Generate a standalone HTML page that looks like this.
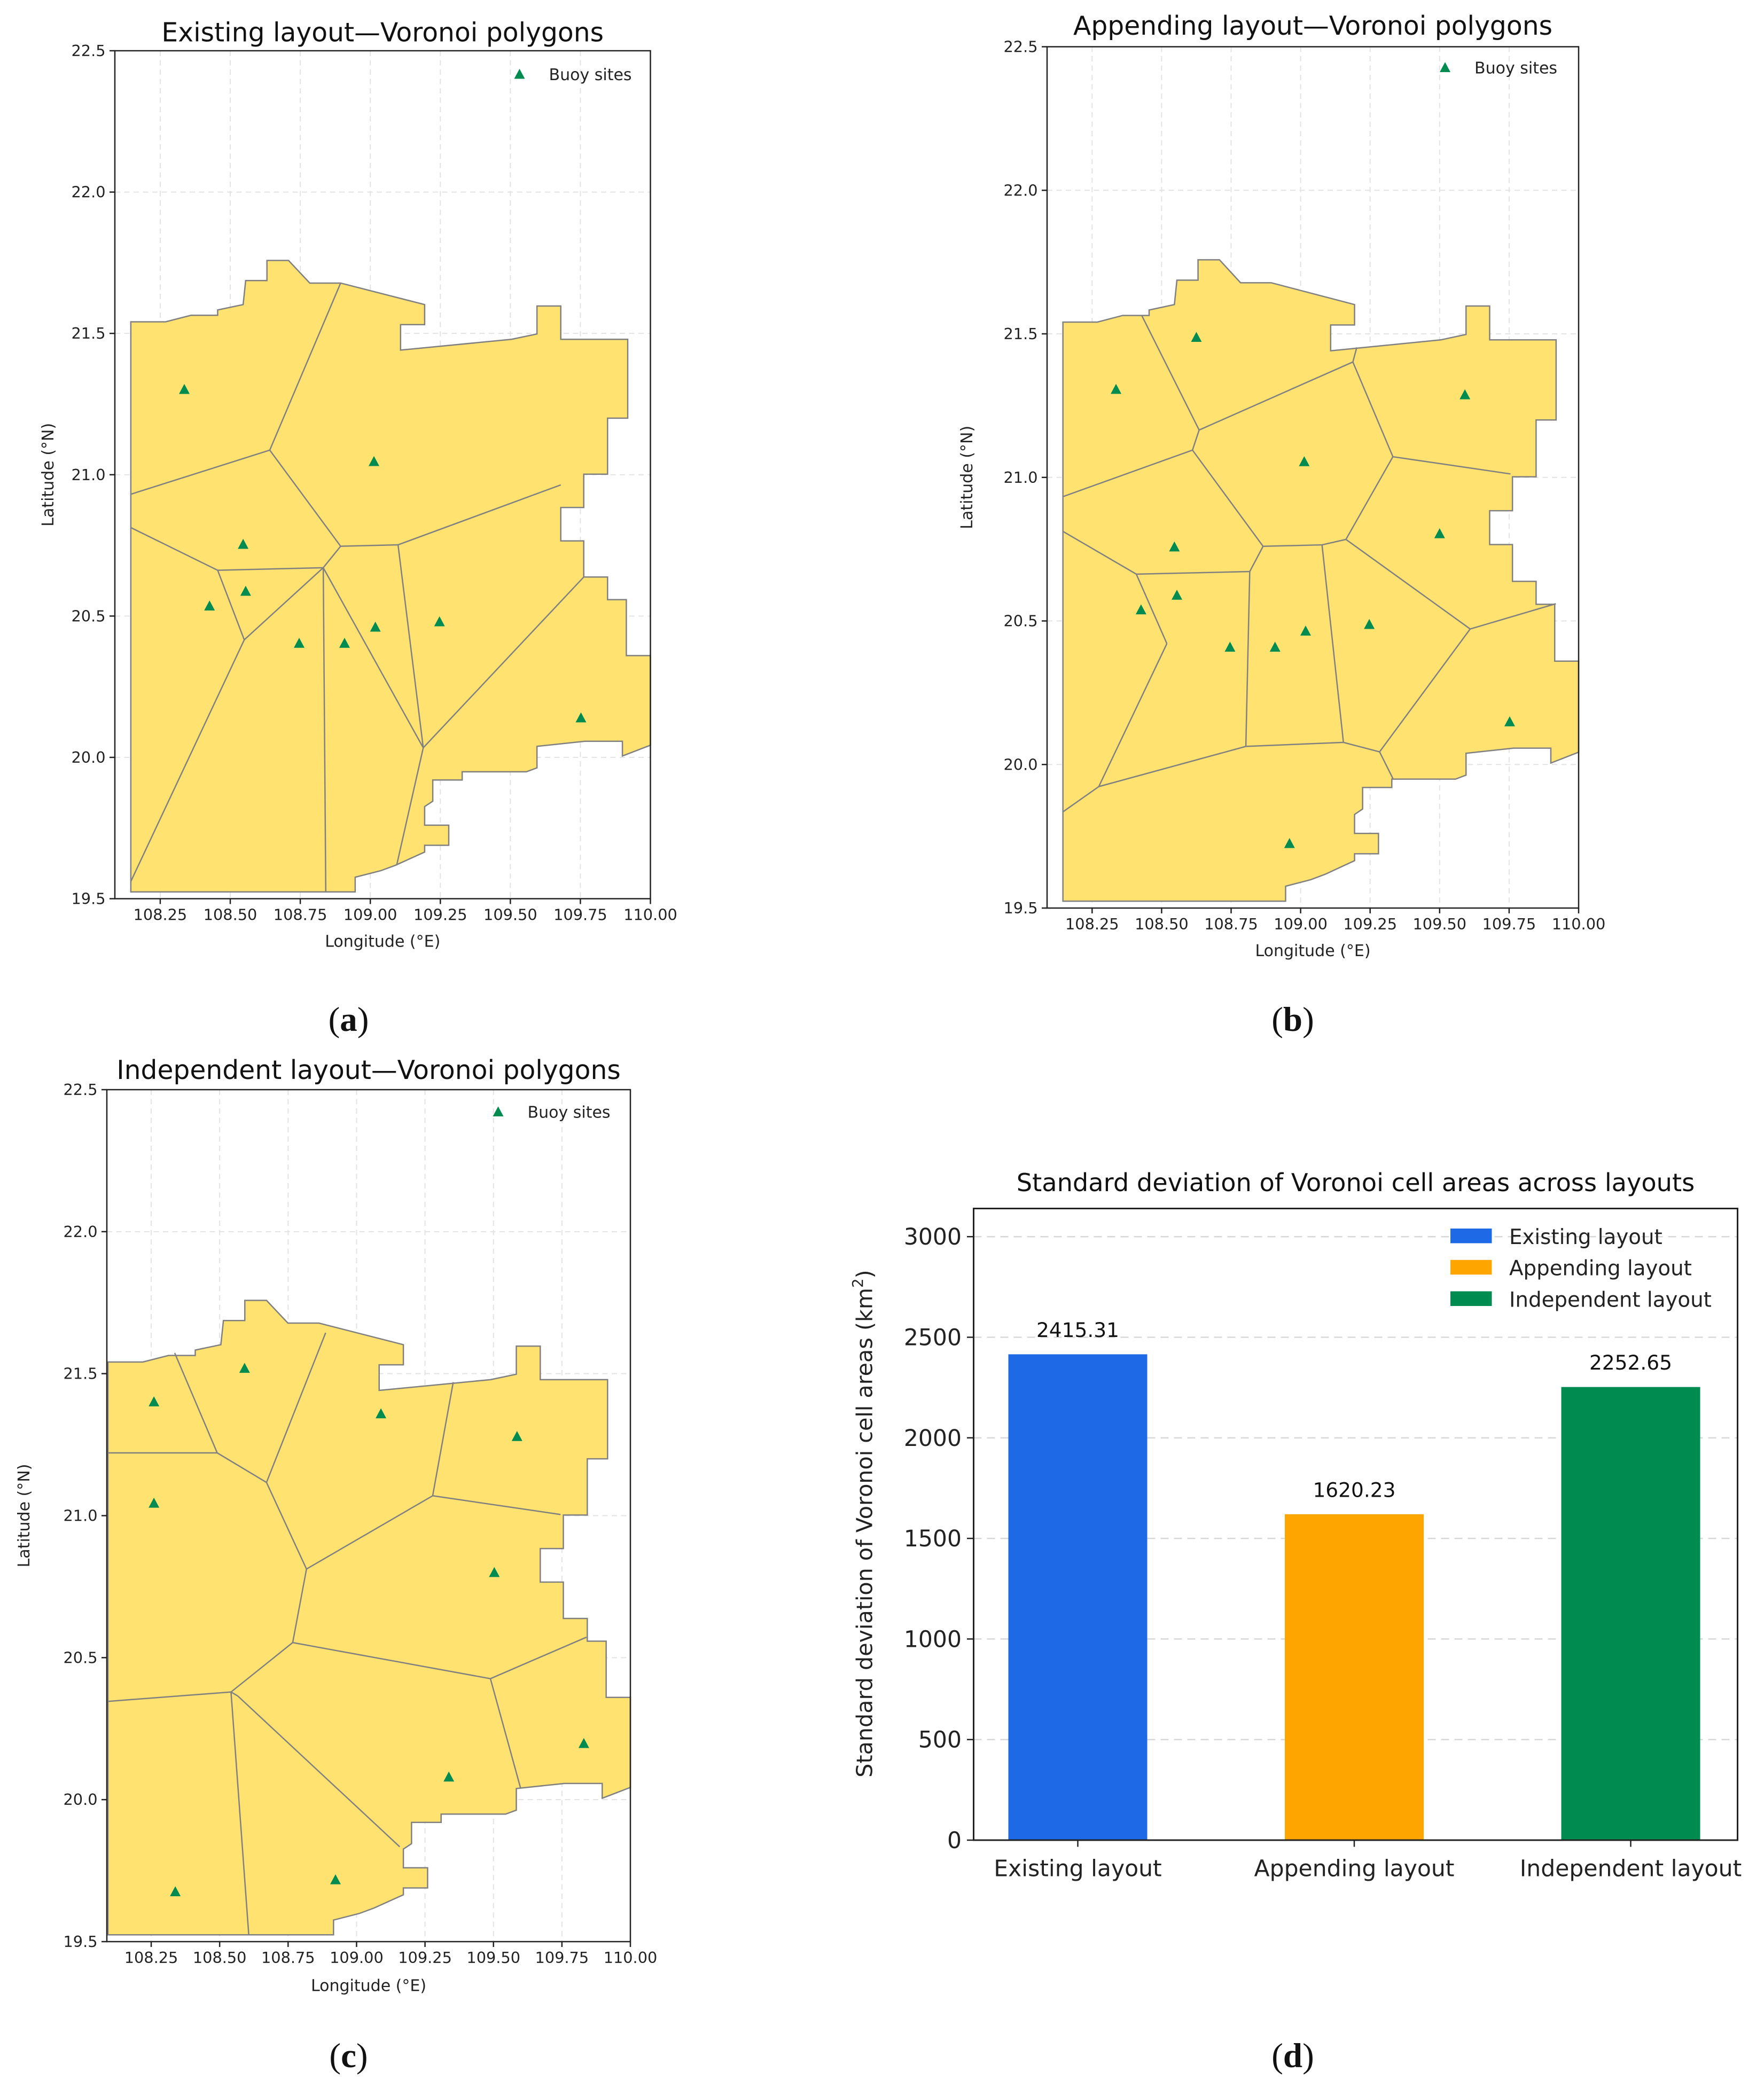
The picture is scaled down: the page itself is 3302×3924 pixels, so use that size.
<!DOCTYPE html>
<html><head><meta charset="utf-8"><style>
html,body{margin:0;padding:0;background:#fff;}
svg{display:block;}
text{font-family:"DejaVu Sans","Liberation Sans",sans-serif;}
</style></head><body>
<svg id="fig" width="3302" height="3924" viewBox="0 0 1320.8 1569.6" xmlns="http://www.w3.org/2000/svg"></svg>
<script>
// ---------- data ----------
const boundaryLon=[108.145,108.145,108.946,108.946,109.037,109.089,109.194,109.194,109.28,109.28,109.194,109.194,109.223,109.223,109.328,109.328,109.557,109.595,109.595,109.766,109.9,109.9,110.0,110.0,109.914,109.914,109.847,109.847,109.762,109.762,109.68,109.68,109.762,109.762,109.847,109.847,109.919,109.919,109.68,109.68,109.595,109.595,109.504,109.108,109.108,109.194,109.194,108.894,108.784,108.708,108.631,108.631,108.555,108.546,108.455,108.455,108.36,108.269];
const boundaryLat=[21.541,19.524,19.524,19.576,19.599,19.618,19.665,19.689,19.689,19.76,19.76,19.826,19.845,19.92,19.92,19.949,19.949,19.963,20.039,20.057,20.057,20.005,20.043,20.36,20.36,20.558,20.558,20.638,20.638,20.766,20.766,20.884,20.884,21.002,21.002,21.2,21.2,21.479,21.479,21.597,21.597,21.498,21.479,21.441,21.531,21.531,21.602,21.678,21.678,21.758,21.758,21.687,21.687,21.602,21.583,21.564,21.564,21.541];

const buoyLonA=[108.336,109.013,108.546,108.426,108.555,108.746,108.908,109.018,109.247,109.752];
const buoyLatA=[21.30,21.045,20.752,20.534,20.586,20.402,20.402,20.459,20.478,20.138];
const buoyLonB=[108.336,108.625,109.013,109.591,108.546,108.555,108.426,108.746,108.908,109.018,109.247,109.5,109.752,108.96];
const buoyLatB=[21.305,21.486,21.053,21.286,20.756,20.588,20.537,20.407,20.407,20.463,20.486,20.802,20.147,19.723];
const buoyLonC=[108.26,108.26,108.591,109.089,109.586,109.503,109.337,109.83,108.338,108.923];
const buoyLatC=[21.399,21.042,21.517,21.357,21.277,20.798,20.078,20.196,19.674,19.716];

// interior edges [lon1,lat1,lon2,lat2]
const edgesA=[[108.894,21.678,108.641,21.087],[108.641,21.087,108.145,20.931],[108.641,21.087,108.894,20.747],[108.894,20.747,109.099,20.752],[109.099,20.752,109.68,20.964],[108.894,20.747,108.832,20.671],[108.455,20.662,108.832,20.671],[108.145,20.813,108.455,20.662],[108.455,20.662,108.55,20.416],[108.55,20.416,108.832,20.671],[108.55,20.416,108.145,19.561],[108.832,20.671,108.841,19.524],[108.832,20.671,109.189,20.034],[109.099,20.752,109.189,20.034],[109.189,20.034,109.762,20.638],[109.189,20.034,109.094,19.618]];
const edgesB=[[108.428,21.565,108.635,21.165],[108.635,21.165,108.611,21.095],[108.611,21.095,108.145,20.933],[108.635,21.165,109.188,21.402],[109.188,21.402,109.202,21.453],[109.188,21.402,109.332,21.072],[109.332,21.072,109.755,21.012],[109.332,21.072,109.163,20.784],[109.163,20.784,109.077,20.765],[109.077,20.765,108.865,20.76],[108.611,21.095,108.865,20.76],[108.865,20.76,108.817,20.672],[108.817,20.672,108.409,20.663],[108.409,20.663,108.145,20.812],[108.409,20.663,108.519,20.421],[108.519,20.421,108.274,19.923],[108.274,19.923,108.145,19.835],[108.274,19.923,108.803,20.063],[108.817,20.672,108.803,20.063],[108.803,20.063,109.154,20.077],[109.163,20.784,109.61,20.472],[109.61,20.472,109.918,20.56],[109.61,20.472,109.284,20.044],[109.077,20.765,109.154,20.077],[109.154,20.077,109.284,20.044],[109.284,20.044,109.332,19.951]];
const edgesC=[[108.382,21.573,108.533,21.221],[108.533,21.221,108.145,21.221],[108.533,21.221,108.708,21.117],[108.708,21.117,108.918,21.644],[108.708,21.117,108.85,20.812],[108.85,20.812,109.298,21.07],[109.298,21.07,109.371,21.47],[109.298,21.07,109.752,21.004],[108.85,20.812,108.801,20.553],[108.801,20.553,108.582,20.379],[108.582,20.379,108.145,20.346],[108.582,20.379,108.645,19.524],[108.801,20.553,109.503,20.426],[109.503,20.426,109.844,20.572],[109.503,20.426,109.61,20.041],[108.606,20.365,109.181,19.834],[108.582,20.379,108.606,20.365]];

// bar chart
const barCategories=["Existing layout","Appending layout","Independent layout"];
const barValues=[2415.31,1620.23,2252.65];
const barColors=["#1e6ae6","#ffa500","#008c50"];
const barYTicks=[0,500,1000,1500,2000,2500,3000];
const xTicksMap=[108.25,108.5,108.75,109.0,109.25,109.5,109.75,110.0];
const yTicksMap=[19.5,20.0,20.5,21.0,21.5,22.0,22.5];

// ---------- helpers ----------
const NS="http://www.w3.org/2000/svg";
const svg=document.getElementById('fig');
function mk(tag,attrs,parent,txt){const e=document.createElementNS(NS,tag);for(const k in attrs)e.setAttribute(k,attrs[k]);if(txt!==undefined)e.textContent=txt;(parent||svg).appendChild(e);return e;}

function mapPanel(id,box,title,titleY,buoyLon,buoyLat,edges,legX,legY,lonLabelY,latLabelX,regionLeft){
  const g=mk('g',{});
  
  
  const xmin=108.088,xmax=110.0,ymin=19.5,ymax=22.5;
  const sx=v=>box.x0+(v-xmin)/(xmax-xmin)*(box.x1-box.x0);
  const sy=v=>box.y1-(v-ymin)/(ymax-ymin)*(box.y1-box.y0);
  // region x stretch (region's west edge may differ per layout)
  const rl=regionLeft||108.145;
  const rx=v=>sx(rl+(v-108.145)*(110.0-rl)/(110.0-108.145));
  xTicksMap.forEach(t=>{const l=mk('line',{x1:sx(t),x2:sx(t),y1:box.y0,y2:box.y1,stroke:'#e3e3e3','stroke-width':0.8,'stroke-dasharray':'4,3'},g);
    });
  yTicksMap.forEach(t=>{const l=mk('line',{x1:box.x0,x2:box.x1,y1:sy(t),y2:sy(t),stroke:'#e3e3e3','stroke-width':0.8,'stroke-dasharray':'4,3'},g);
    });
  const pts=boundaryLon.map((v,i)=>rx(v)+','+sy(boundaryLat[i])).join(' ');
  const poly=mk('polygon',{points:pts,fill:'#ffe270',stroke:'#808080','stroke-width':1},g);
  
  
  edges.forEach(e=>{const l=mk('line',{x1:rx(e[0]),y1:sy(e[1]),x2:rx(e[2]),y2:sy(e[3]),stroke:'#808080','stroke-width':1},g);
    });
  buoyLon.forEach((v,i)=>{const x=sx(v),y=sy(buoyLat[i]);
    const t=mk('polygon',{points:`${x},${y-4.5} ${x-4},${y+3} ${x+4},${y+3}`,fill:'#008c50'},g);
    });
  const fr=mk('rect',{x:box.x0,y:box.y0,width:box.x1-box.x0,height:box.y1-box.y0,fill:'none',stroke:'#222','stroke-width':1},g);
  
  xTicksMap.forEach(t=>{mk('line',{x1:sx(t),x2:sx(t),y1:box.y1,y2:box.y1+4,stroke:'#222'},g);
    const tx=mk('text',{x:sx(t),y:box.y1+16,'font-size':11.5,'text-anchor':'middle',fill:'#222'},g,t.toFixed(2));
    });
  yTicksMap.forEach(t=>{mk('line',{x1:box.x0-4,x2:box.x0,y1:sy(t),y2:sy(t),stroke:'#222'},g);
    const tx=mk('text',{x:box.x0-7,y:sy(t)+4,'font-size':11.5,'text-anchor':'end',fill:'#222'},g,t.toFixed(1));
    });
  const cx=(box.x0+box.x1)/2;
  const tt=mk('text',{x:cx,y:titleY,'font-size':19.5,'text-anchor':'middle',fill:'#111'},g,title);
  
  const xl=mk('text',{x:cx,y:lonLabelY,'font-size':12,'text-anchor':'middle',fill:'#222'},g,'Longitude (°E)');
  
  const cy=(box.y0+box.y1)/2;
  const yl=mk('text',{x:latLabelX,y:cy,'font-size':12,'text-anchor':'middle',fill:'#222',transform:`rotate(-90 ${latLabelX} ${cy})`},g,'Latitude (°N)');
  
  const lg=mk('g',{},g);
  
  mk('polygon',{points:`${legX},${legY-4.5} ${legX-4},${legY+3} ${legX+4},${legY+3}`,fill:'#008c50'},lg);
  const lt=mk('text',{x:legX+22,y:legY+4,'font-size':12,fill:'#222'},lg,'Buoy sites');
  
}

mapPanel('existing',{x0:86,x1:487,y0:38,y1:673},'Existing layout\u2014Voronoi polygons',31,buoyLonA,buoyLatA,edgesA,389,56,709,40);
mapPanel('appending',{x0:784,x1:1182,y0:35,y1:680},'Appending layout\u2014Voronoi polygons',26,buoyLonB,buoyLatB,edgesB,1082,51,716,728);
mapPanel('independent',{x0:80,x1:472,y0:816,y1:1454},'Independent layout\u2014Voronoi polygons',808,buoyLonC,buoyLatC,edgesC,373,833,1491,22,108.092);

[['(a)',261,772],['(b)',968,772],['(c)',261,1548],['(d)',968,1548]].forEach(c=>{
  const t=mk('text',{x:c[1],y:c[2],'font-size':26,'text-anchor':'middle',fill:'#111',style:'font-family:"Liberation Serif",serif'});
  
  mk('tspan',{},t,'(');mk('tspan',{'font-weight':'bold'},t,c[0][1]);mk('tspan',{},t,')');
});

// ---------- bar chart ----------
(function(){
  const g=mk('g',{});
  
  
  const box={x0:729,x1:1301,y0:905,y1:1378};
  const ymax=3140;
  const sy=v=>box.y1-v/ymax*(box.y1-box.y0);
  const sx=i=>box.x0+78+i*207;
  const bw=104;
  barYTicks.forEach(t=>{
    if(t>0){const l=mk('line',{x1:box.x0,x2:box.x1,y1:sy(t),y2:sy(t),stroke:'#d8d8d8','stroke-width':1,'stroke-dasharray':'6,4'},g);
      }
    mk('line',{x1:box.x0-5,x2:box.x0,y1:sy(t),y2:sy(t),stroke:'#222'},g);
    const tx=mk('text',{x:box.x0-9,y:sy(t)+6,'font-size':17,'text-anchor':'end',fill:'#222'},g,String(t));
    
  });
  barValues.forEach((v,i)=>{
    const cx=sx(i);
    const r=mk('rect',{x:cx-bw/2,y:sy(v),width:bw,height:box.y1-sy(v),fill:barColors[i]},g);
    
    
    const vl=mk('text',{x:cx,y:sy(v)-13,'font-size':15,'text-anchor':'middle',fill:'#111'},g,v.toFixed(2));
    
    mk('line',{x1:cx,x2:cx,y1:box.y1,y2:box.y1+5,stroke:'#222'},g);
    const xl=mk('text',{x:cx,y:box.y1+27,'font-size':17,'text-anchor':'middle',fill:'#222'},g,barCategories[i]);
    
  });
  const fr=mk('rect',{x:box.x0,y:box.y0,width:box.x1-box.x0,height:box.y1-box.y0,fill:'none',stroke:'#222','stroke-width':1.2},g);
  
  const tt=mk('text',{x:(box.x0+box.x1)/2,y:892,'font-size':18.5,'text-anchor':'middle',fill:'#111'},g,'Standard deviation of Voronoi cell areas across layouts');
  
  const cy=1141;
  const yl=mk('text',{x:653,y:cy,'font-size':16.5,'text-anchor':'middle',fill:'#222',transform:`rotate(-90 653 ${cy})`},g);
  
  mk('tspan',{},yl,'Standard deviation of Voronoi cell areas (km');
  mk('tspan',{'font-size':11,dy:-7},yl,'2');
  mk('tspan',{dy:7},yl,')');
  const lg=mk('g',{},g);
  
  barCategories.forEach((c,i)=>{
    const y=926+i*23.5;
    mk('rect',{x:1086,y:y-6,width:31,height:11,fill:barColors[i]},lg);
    const t=mk('text',{x:1130,y:y+5.5,'font-size':15.5,fill:'#222'},lg,c);
    
  });
})();
</script>
</body></html>
